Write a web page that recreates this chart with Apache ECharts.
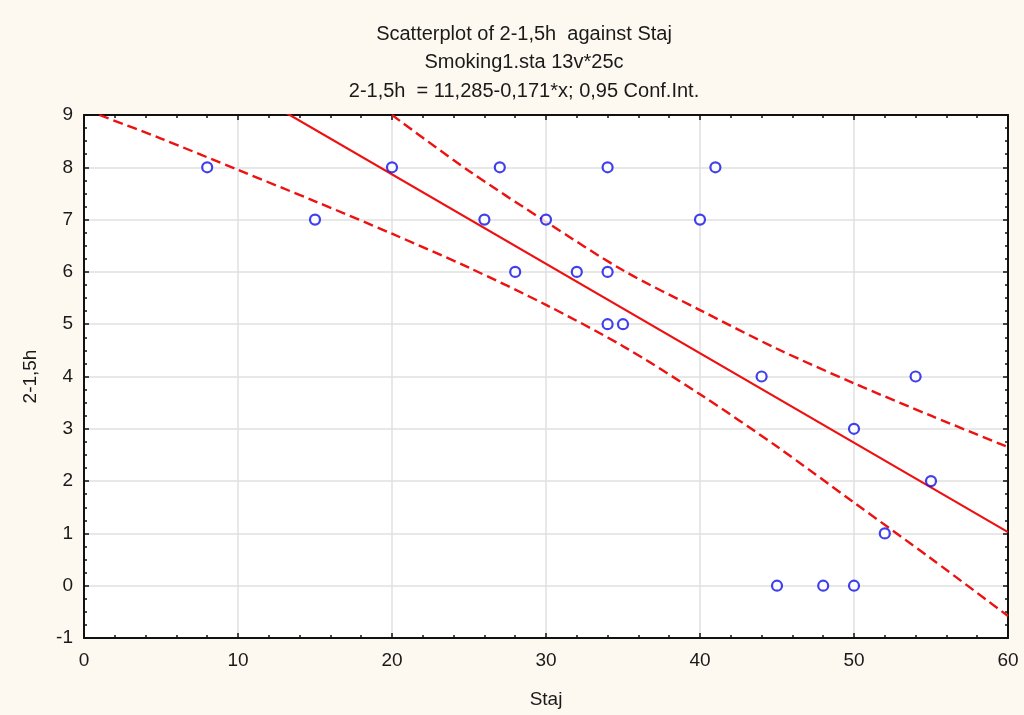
<!DOCTYPE html>
<html>
<head>
<meta charset="utf-8">
<title>Scatterplot of 2-1,5h against Staj</title>
<script src="https://cdn.jsdelivr.net/npm/echarts@6/dist/echarts.min.js"></script>
<style>
  html, body { margin: 0; padding: 0; background: #fdf9f0; }
  #chart { width: 1024px; height: 715px; }
</style>
</head>
<body>
<div id="chart"></div>
<script>
// Observations: years of work (Staj) and the 2-1,5h score
const staj = [8, 15, 20, 26, 27, 28, 30, 32, 34, 34, 34, 35, 40, 41, 44, 45, 48, 50, 50, 52, 54, 55];
const score = [8, 7, 8, 7, 8, 6, 7, 6, 8, 6, 5, 5, 7, 8, 4, 0, 0, 3, 0, 1, 4, 2];

// Fitted line: 2-1,5h = 11,285 - 0,171*x
const INTERCEPT = 11.285;
const SLOPE = -0.171;
const fitX = [0, 60];

// 0,95 confidence band around the fit
const upperX = [20, 25, 30, 35, 40, 45, 50, 55, 60];
const upperY = [9.00, 7.93, 6.96, 6.03, 5.27, 4.53, 3.87, 3.25, 2.65];
const lowerX = [1, 5, 10, 15, 20, 25, 30, 35, 40, 45, 50, 55, 60];
const lowerY = [9.00, 8.55, 7.95, 7.35, 6.73, 6.08, 5.37, 4.58, 3.66, 2.66, 1.59, 0.52, -0.58];

// Axis ticks
const xTicks = [0, 10, 20, 30, 40, 50, 60];
const yTicks = [-1, 0, 1, 2, 3, 4, 5, 6, 7, 8, 9];

const titleLines = [
  'Scatterplot of 2-1,5h  against Staj',
  'Smoking1.sta 13v*25c',
  '2-1,5h  = 11,285-0,171*x; 0,95 Conf.Int.'
];

const FONT = '"Liberation Sans", Arial, sans-serif';
const INK = '#1a1a1a';

const zip = (xs, ys) => xs.map((x, i) => [x, ys[i]]);

const chart = echarts.init(document.getElementById('chart'), null, { renderer: 'canvas' });

const frameAxis = {
  axisLine: { show: true, onZero: false, lineStyle: { color: '#111', width: 2 } },
  axisTick: { show: true, inside: true, length: 5, lineStyle: { color: '#111', width: 1.5 } },
  minorTick: { show: true, length: 3, lineStyle: { color: '#111', width: 1.5 } }
};

chart.setOption({
  backgroundColor: '#fdf9f0',
  animation: false,
  textStyle: { fontFamily: FONT },
  title: titleLines.map((t, i) => ({
    text: t,
    left: 519,
    top: 19 + i * 28.5,
    textAlign: 'center',
    textStyle: { fontFamily: FONT, fontSize: 20, fontWeight: 'normal', color: INK }
  })),
  grid: {
    left: 84, right: 16, top: 115, bottom: 77,
    show: true, backgroundColor: '#ffffff', borderWidth: 0
  },
  xAxis: [
    Object.assign({}, frameAxis, {
      type: 'value', position: 'bottom',
      min: xTicks[0], max: xTicks[xTicks.length - 1], interval: 10,
      minorTick: Object.assign({}, frameAxis.minorTick, { splitNumber: 5 }),
      splitLine: { show: true, lineStyle: { color: '#e1e1e1', width: 1.5 } },
      axisLabel: { fontSize: 19, color: INK, margin: 13, fontFamily: FONT },
      name: 'Staj', nameLocation: 'middle', nameGap: 52,
      nameTextStyle: { fontSize: 19, color: INK, fontFamily: FONT }
    }),
    Object.assign({}, frameAxis, {
      type: 'value', position: 'top',
      min: xTicks[0], max: xTicks[xTicks.length - 1], interval: 10,
      minorTick: Object.assign({}, frameAxis.minorTick, { splitNumber: 5 }),
      splitLine: { show: false },
      axisLabel: { show: false }
    })
  ],
  yAxis: [
    Object.assign({}, frameAxis, {
      type: 'value', position: 'left',
      min: yTicks[0], max: yTicks[yTicks.length - 1], interval: 1,
      minorTick: Object.assign({}, frameAxis.minorTick, { splitNumber: 4 }),
      splitLine: { show: true, lineStyle: { color: '#e1e1e1', width: 1.5 } },
      axisLabel: { fontSize: 19, color: INK, margin: 11, fontFamily: FONT },
      name: '2-1,5h', nameLocation: 'middle', nameGap: 44, nameRotate: 90,
      nameTextStyle: { fontSize: 19, color: INK, fontFamily: FONT }
    }),
    Object.assign({}, frameAxis, {
      type: 'value', position: 'right',
      min: yTicks[0], max: yTicks[yTicks.length - 1], interval: 1,
      minorTick: Object.assign({}, frameAxis.minorTick, { splitNumber: 4 }),
      splitLine: { show: false },
      axisLabel: { show: false }
    })
  ],
  series: [
    {
      name: 'Fit',
      type: 'line',
      data: fitX.map(x => [x, INTERCEPT + SLOPE * x]),
      symbol: 'none',
      clip: true,
      lineStyle: { color: '#ee1111', width: 2.2 },
      z: 3
    },
    {
      name: 'Upper 0,95',
      type: 'line',
      data: zip(upperX, upperY),
      symbol: 'none',
      smooth: 0.3,
      clip: true,
      lineStyle: { color: '#ee1111', width: 2.4, type: [10, 5] },
      z: 3
    },
    {
      name: 'Lower 0,95',
      type: 'line',
      data: zip(lowerX, lowerY),
      symbol: 'none',
      smooth: 0.3,
      clip: true,
      lineStyle: { color: '#ee1111', width: 2.4, type: [10, 5] },
      z: 3
    },
    {
      name: '2-1,5h',
      type: 'scatter',
      data: zip(staj, score),
      symbol: 'circle',
      symbolSize: 10,
      itemStyle: { color: '#ffffff', borderColor: '#1010e8', borderWidth: 2.2 },
      z: 4
    }
  ]
});
</script>
</body>
</html>
